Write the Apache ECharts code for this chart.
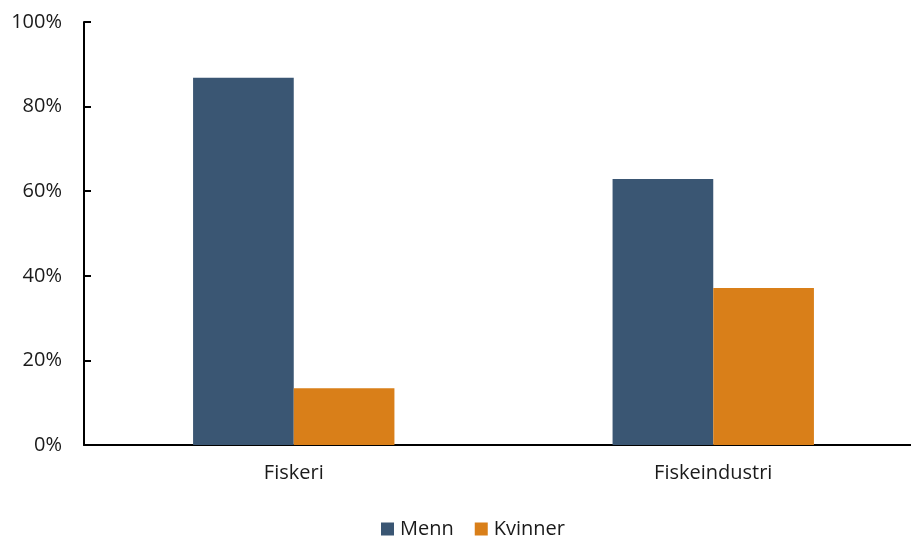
<!DOCTYPE html>
<html><head><meta charset="utf-8">
<script src="https://cdn.jsdelivr.net/npm/echarts@6/dist/echarts.min.js"></script>
<style>html,body{margin:0;padding:0;background:#fff;overflow:hidden;width:911px;height:541px}#c{width:923px;height:541px}</style>
</head><body><div id="c"></div>
<script>
const categories = ['Fiskeri', 'Fiskeindustri'];
const menn = [86.8, 62.9];
const kvinner = [13.4, 37.1];
const seriesNames = ['Menn', 'Kvinner'];

const chart = echarts.init(document.getElementById('c'), null, {renderer: 'canvas'});
const font = 'Open Sans, Liberation Sans, sans-serif';
chart.setOption({
  animation: false,
  grid: {left: 84, top: 22, right: 0, height: 423},
  legend: {
    top: 519, left: 381, padding: 0, itemWidth: 13, itemHeight: 13, itemGap: 21,
    icon: 'rect',
    textStyle: {fontFamily: font, fontSize: 20, color: '#1a1a1a', padding: [0, 0, 0, 1]},
    data: seriesNames
  },
  xAxis: {
    type: 'category', data: categories,
    axisLine: {lineStyle: {color: '#000', width: 2}},
    axisTick: {show: false},
    axisLabel: {fontFamily: font, fontSize: 20, color: '#1a1a1a', margin: 18}
  },
  yAxis: {
    type: 'value', min: 0, max: 100, interval: 20,
    axisLine: {show: true, lineStyle: {color: '#000', width: 2}},
    axisTick: {show: true, inside: true, length: 7, lineStyle: {color: '#000', width: 2}},
    splitLine: {show: false},
    axisLabel: {fontFamily: font, fontSize: 20, color: '#1a1a1a', margin: 22, formatter: '{value}%'}
  },
  series: [
    {name: seriesNames[0], type: 'bar', data: menn, barGap: '0%', barCategoryGap: '52%',
     itemStyle: {color: '#3A5673'}},
    {name: seriesNames[1], type: 'bar', data: kvinner,
     itemStyle: {color: '#D97F19'}}
  ]
});
</script></body></html>
